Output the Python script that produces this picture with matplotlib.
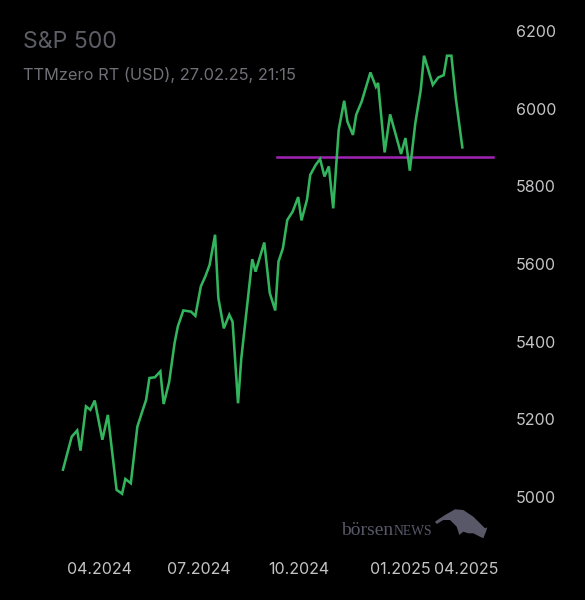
"""S&P 500 one-year line chart, dark theme (boersenNEWS style)."""

import matplotlib
matplotlib.use("Agg")
import matplotlib.pyplot as plt
from matplotlib.patches import Polygon
import pandas as pd

# ---- Data ----
DATES = [
    "2024-02-28", "2024-03-07", "2024-03-12", "2024-03-15", "2024-03-20",
    "2024-03-24", "2024-03-28", "2024-04-04", "2024-04-09", "2024-04-17",
    "2024-04-22", "2024-04-25", "2024-04-30", "2024-05-06", "2024-05-10",
    "2024-05-14", "2024-05-17", "2024-05-22", "2024-05-27", "2024-05-30",
    "2024-06-04", "2024-06-09", "2024-06-12", "2024-06-17", "2024-06-24",
    "2024-06-28", "2024-07-03", "2024-07-07", "2024-07-11", "2024-07-16",
    "2024-07-19", "2024-07-24", "2024-07-29", "2024-08-01", "2024-08-06",
    "2024-08-09", "2024-08-19", "2024-08-22", "2024-08-30", "2024-09-04",
    "2024-09-09", "2024-09-12", "2024-09-16", "2024-09-20", "2024-09-25",
    "2024-09-30", "2024-10-03", "2024-10-08", "2024-10-11", "2024-10-16",
    "2024-10-20", "2024-10-24", "2024-10-28", "2024-11-01", "2024-11-06",
    "2024-11-11", "2024-11-14", "2024-11-19", "2024-11-22", "2024-11-27",
    "2024-12-05", "2024-12-10", "2024-12-12", "2024-12-18", "2024-12-23",
    "2025-01-02", "2025-01-06", "2025-01-10", "2025-01-15", "2025-01-20",
    "2025-01-23", "2025-01-31", "2025-02-05", "2025-02-10", "2025-02-13",
    "2025-02-17", "2025-02-21", "2025-02-27",
]
CLOSE = [
    5070, 5155, 5171, 5119, 5233, 5224, 5248, 5147, 5211, 5018,
    5008, 5046, 5035, 5181, 5216, 5250, 5306, 5308, 5323, 5239,
    5295, 5396, 5439, 5480, 5477, 5466, 5542, 5567, 5597, 5675,
    5512, 5434, 5469, 5451, 5241, 5357, 5612, 5580, 5655, 5525,
    5480, 5606, 5640, 5713, 5735, 5772, 5712, 5765, 5829, 5855,
    5870, 5825, 5851, 5743, 5945, 6020, 5966, 5932, 5984, 6018,
    6093, 6056, 6066, 5887, 5985, 5883, 5924, 5840, 5962, 6048,
    6136, 6061, 6080, 6086, 6136, 6136, 6027, 5900,
]
SUPPORT_LEVEL = 5875
SUPPORT_START, SUPPORT_END = "2024-09-11", "2025-03-27"

Y_TICKS = [5000, 5200, 5400, 5600, 5800, 6000, 6200]
X_TICKS = ["2024-04-01", "2024-07-01", "2024-10-01", "2025-01-01", "2025-04-01"]
X_TICK_LABELS = ["04.2024", "07.2024", "10.2024", "01.2025", "04.2025"]

TITLE = "S&P 500"
SUBTITLE = "TTMzero RT (USD), 27.02.25, 21:15"

# ---- Style ----
BG = "black"
GREEN = "#33b55e"
PURPLE = "#a024b4"
TICK_GREY = "#c4c4c6"
LOGO_GREY = "#585868"
SERIF = ["Liberation Serif", "DejaVu Serif"]
plt.rcParams["font.family"] = ["Inter", "DejaVu Sans"]

W, H = 585, 600
dates = pd.to_datetime(DATES)

fig = plt.figure(figsize=(W / 100, H / 100), dpi=100, facecolor=BG)
ax = fig.add_axes([40 / W, 1 - 545 / H, 465 / W, 525 / H])
ax.set_facecolor(BG)

ax.plot(dates, CLOSE, color=GREEN, lw=1.85, solid_joinstyle="miter", zorder=3)
ax.plot(pd.to_datetime([SUPPORT_START, SUPPORT_END]), [SUPPORT_LEVEL] * 2,
        color=PURPLE, lw=1.8, zorder=2)

ax.set_xlim(pd.Timestamp("2024-02-07"), pd.Timestamp("2025-04-07"))
ax.set_ylim(4876, 6228)

for s in ax.spines.values():
    s.set_visible(False)

ax.yaxis.tick_right()
ax.set_yticks(Y_TICKS)
ax.set_yticklabels([str(v) for v in Y_TICKS])
ax.tick_params(axis="y", length=0, pad=7.7, labelsize=11.5, labelcolor=TICK_GREY)

ax.set_xticks(pd.to_datetime(X_TICKS))
ax.set_xticklabels(X_TICK_LABELS)
ax.tick_params(axis="x", length=0, pad=12, labelsize=11.5, labelcolor=TICK_GREY)
ax.get_xticklabels()[-1].set_horizontalalignment("right")

# title block
fig.text(23 / W, 1 - 42 / H, TITLE, color="#5d5d66", fontsize=16.6,
         va="center", ha="left")
fig.text(23 / W, 1 - 75 / H, SUBTITLE, color="#707078", fontsize=11.8,
         va="center", ha="left")

# watermark: boersenNEWS + bull
fig.text(341 / W, 1 - 535 / H, "börsen", color=LOGO_GREY, fontsize=14,
         family=SERIF, va="baseline", ha="left")
fig.text(393.5 / W, 1 - 535 / H, "NEWS", color=LOGO_GREY, fontsize=9.8,
         family=SERIF, va="baseline", ha="left")
bull_px = [(435, 521.7), (445, 515), (455, 509.3), (463.3, 510), (473.3, 516.7),
           (480, 523.3), (485, 528.3), (487.3, 527.3), (486, 531.7),
           (483.3, 538.3), (480, 536.7), (473.3, 533.3), (468.3, 533.3),
           (463.3, 531.7), (459.3, 535), (458.3, 531.7), (456.7, 526.7),
           (450, 520), (443.3, 520), (436.7, 524)]
bull = Polygon([(x / W, 1 - y / H) for x, y in bull_px], closed=True,
               transform=fig.transFigure, facecolor=LOGO_GREY, edgecolor="none")
fig.patches.append(bull)

fig.savefig("out.png", dpi=100, facecolor=BG)
